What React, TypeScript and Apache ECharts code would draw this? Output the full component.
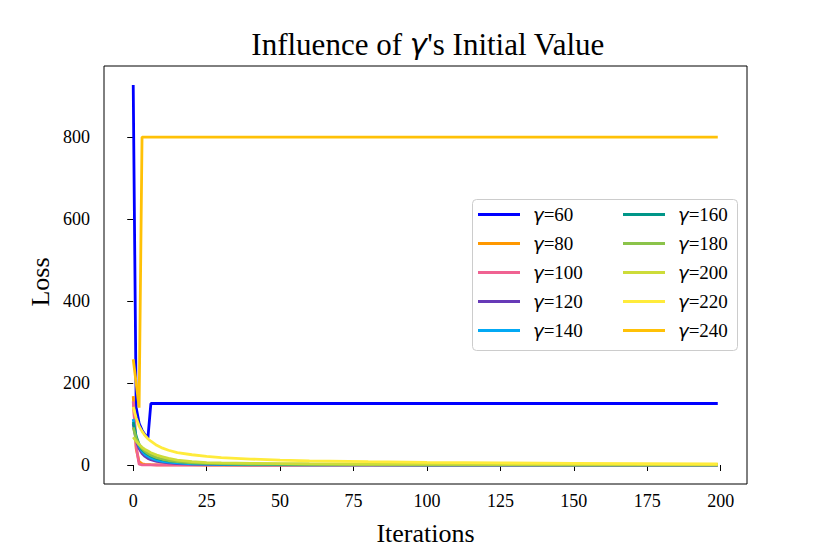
import React, { useEffect, useRef } from "react";
import * as echarts from "echarts";

const ITER = [0, 1, 2, 3, 4, 5, 6, 8, 10, 12, 15, 20, 25, 30, 40, 50, 60, 80, 100, 125, 150, 175, 199];

const G60 = [927, 140, 102, 85, 74, 66, 150, 150, 150, 150, 150, 150, 150, 150, 150, 150, 150, 150, 150, 150, 150, 150, 150];
const G80 = [168, 40, 8, 3, 1.5, 1, 0.8, 0.5, 0.4, 0.3, 0.2, 0.1, 0, 0, 0, 0, 0, 0, 0, 0, 0, 0, 0];
const G100 = [155, 45, 2, 0.5, 0.3, 0.2, 0.1, 0, 0, 0, 0, 0, 0, 0, 0, 0, 0, 0, 0, 0, 0, 0, 0];
const G120 = [100, 60, 40, 28, 21, 16, 13, 9, 7, 5, 3.5, 2, 1.5, 1, 0.6, 0.4, 0.3, 0.2, 0.1, 0.1, 0.1, 0.1, 0.1];
const G140 = [112, 66, 46, 34, 26, 21, 17, 12, 9, 7, 5, 3, 2, 1.5, 1, 0.7, 0.5, 0.4, 0.3, 0.2, 0.2, 0.1, 0.1];
const G160 = [105, 70, 50, 38, 31, 26, 22, 16, 13, 10, 8, 5.5, 4, 3, 2, 1.5, 1.2, 0.8, 0.6, 0.5, 0.4, 0.3, 0.3];
const G180 = [92, 65, 50, 40, 33, 28, 24, 18, 14, 11, 8, 5.5, 4, 3.2, 2.4, 2, 1.6, 1.2, 1, 0.8, 0.6, 0.5, 0.5];
const G200 = [68, 58, 50, 43, 38, 34, 30, 24, 20, 16, 12, 8, 6, 5, 4, 3.5, 3, 2.4, 2, 1.6, 1.3, 1.1, 1];
const G220 = [142, 115, 95, 82, 72, 64, 58, 48, 41, 36, 30, 25, 21, 18, 14.5, 12, 10, 8, 6.5, 5, 4, 3.2, 2.5];
const G240 = [258, 200, 140, 800, 800, 800, 800, 800, 800, 800, 800, 800, 800, 800, 800, 800, 800, 800, 800, 800, 800, 800, 800];

const NAMES = ["γ=60", "γ=80", "γ=100", "γ=120", "γ=140", "γ=160", "γ=180", "γ=200", "γ=220", "γ=240"];
const VALUES = [G60, G80, G100, G120, G140, G160, G180, G200, G220, G240];
const COLORS = ["#0000FF", "#FF9800", "#F06292", "#673AB7", "#03A9F4", "#009688", "#8BC34A", "#CDDC39", "#FFEB3B", "#FFC107"];

const X_TICKS = [0, 25, 50, 75, 100, 125, 150, 175, 200];
const Y_TICKS = [0, 200, 400, 600, 800];

const SERIF = "Liberation Serif";

export default function App() {
  const ref = useRef<HTMLDivElement>(null);
  useEffect(() => {
    if (!ref.current) return;
    const chart = echarts.init(ref.current, null, { renderer: "svg" });
    const legendText = {
      fontFamily: SERIF,
      fontSize: 19,
      color: "#000",
      lineHeight: 20,
      padding: [0, 0, 0, 8],
      rich: {
        g: { fontFamily: "DejaVu Sans", fontStyle: "italic", fontSize: 18, color: "#000", lineHeight: 20 },
      },
    };
    const mkLegend = (names: string[], left: number) => ({
      data: names,
      orient: "vertical",
      left,
      top: 204.5,
      padding: 0,
      itemGap: 9,
      itemWidth: 42,
      itemHeight: 3,
      icon: "rect",
      formatter: (n: string) => `{g|γ}${n.slice(1)}`,
      textStyle: legendText,
    });
    chart.setOption({
      animation: false,
      grid: {
        left: 104,
        right: 83,
        top: 66,
        bottom: 70,
        show: true,
        borderColor: "#000",
        borderWidth: 1,
        backgroundColor: "transparent",
      },
      xAxis: {
        type: "value",
        min: -9.95,
        max: 208.95,
        axisLine: { show: false },
        splitLine: { show: false },
        axisTick: { show: true, inside: false, length: 6, customValues: X_TICKS, lineStyle: { color: "#000" } },
        axisLabel: { customValues: X_TICKS, margin: 8, fontFamily: SERIF, fontSize: 18, color: "#000" },
      },
      yAxis: {
        type: "value",
        min: -46.35,
        max: 973.35,
        axisLine: { show: false },
        splitLine: { show: false },
        axisTick: { show: true, inside: false, length: 6, customValues: Y_TICKS, lineStyle: { color: "#000" } },
        axisLabel: { customValues: Y_TICKS, margin: 14, fontFamily: SERIF, fontSize: 18, color: "#000" },
      },
      legend: [mkLegend(NAMES.slice(0, 5), 478), mkLegend(NAMES.slice(5), 623)],
      graphic: [
        {
          type: "rect",
          z: 3,
          shape: { x: 472.5, y: 199.5, width: 265, height: 151, r: 4 },
          style: { fill: "rgba(255,255,255,0.8)", stroke: "#cccccc", lineWidth: 1 },
        },
        {
          type: "text",
          x: 428,
          y: 44,
          style: {
            text: "Influence of {g|γ}'s Initial Value",
            textAlign: "center",
            textVerticalAlign: "middle",
            fontFamily: SERIF,
            fontSize: 31,
            fill: "#000",
            rich: { g: { fontFamily: "DejaVu Sans", fontStyle: "italic", fontSize: 29, fill: "#000" } },
          },
        },
        {
          type: "text",
          x: 425.5,
          y: 533,
          style: { text: "Iterations", textAlign: "center", textVerticalAlign: "middle", fontFamily: SERIF, fontSize: 26, fill: "#000" },
        },
        {
          type: "text",
          x: 40,
          y: 282,
          rotation: Math.PI / 2,
          style: { text: "Loss", textAlign: "center", textVerticalAlign: "middle", fontFamily: SERIF, fontSize: 26, fill: "#000" },
        },
      ],
      series: NAMES.map((name, i) => ({
        name,
        type: "line",
        showSymbol: false,
        symbol: "none",
        color: COLORS[i],
        lineStyle: { width: 2.8, color: COLORS[i] },
        data: ITER.map((x, j) => [x, VALUES[i][j]]),
      })),
    });
    return () => chart.dispose();
  }, []);
  return <div ref={ref} style={{ width: 830, height: 554, position: "absolute", left: 0, top: 0 }} />;
}
